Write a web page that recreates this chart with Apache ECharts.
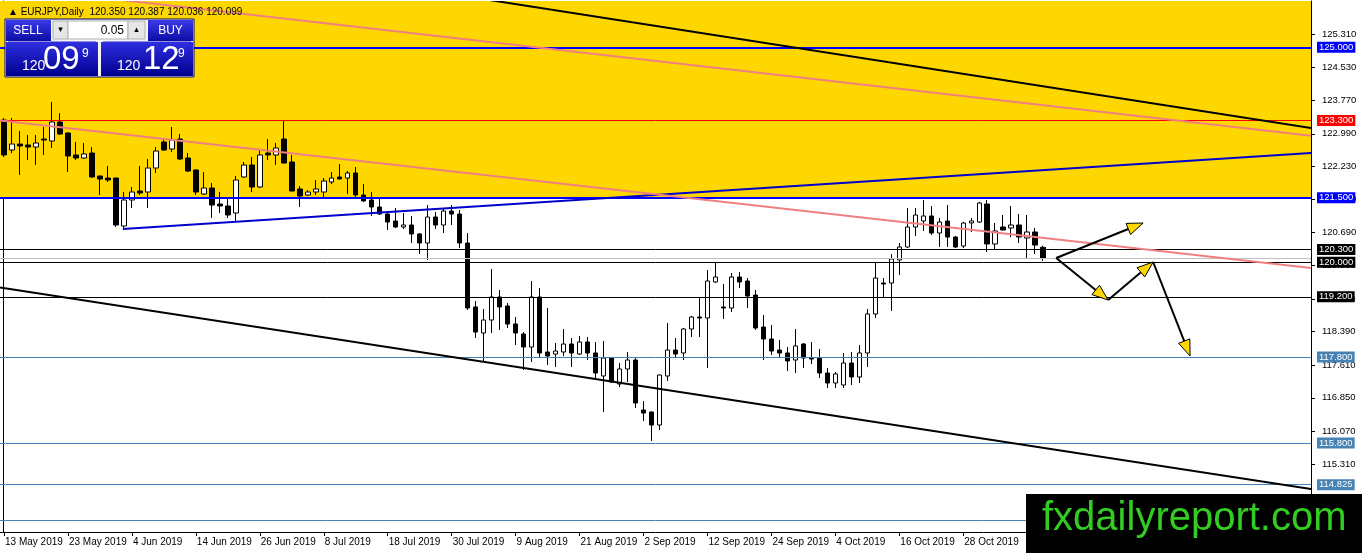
<!DOCTYPE html>
<html>
<head>
<meta charset="utf-8" />
<title>EURJPY,Daily</title>
<script src="https://cdn.jsdelivr.net/npm/echarts@6/dist/echarts.min.js"></script>
<style>
	html, body { margin: 0; padding: 0; background: #fff; }
	#main { width: 1362px; height: 553px; }
</style>
</head>
<body>
<div id="main"></div>
<script type="text/javascript">

// daily candles, 13 May 2019 .. 11 Nov 2019
var opens = [
	123.310,122.613,122.752,122.729,122.682,122.868,122.822,123.264,123.008,122.497,
	122.427,122.543,122.008,121.961,121.961,120.845,121.450,121.659,121.636,122.194,
	122.799,122.636,122.868,122.427,122.148,121.589,121.729,121.357,121.310,121.148,
	121.985,122.264,121.752,122.543,122.497,122.868,122.334,121.706,121.566,121.636,
	121.636,121.868,121.985,121.961,122.078,121.566,121.450,121.287,121.124,120.962,
	120.822,120.868,120.659,120.450,121.054,120.868,121.194,121.124,120.450,118.962,
	118.357,118.659,119.194,118.985,118.566,118.334,118.031,119.194,117.915,117.868,
	117.915,118.101,117.868,118.148,117.892,117.357,117.775,117.171,117.520,117.729,
	116.566,116.520,116.217,117.357,117.961,117.892,118.450,118.729,118.706,119.543,
	118.962,118.938,119.659,119.566,119.240,118.496,118.217,117.961,117.892,117.729,
	118.101,117.775,117.775,117.427,117.194,117.148,117.659,117.334,117.892,118.799,
	119.520,119.520,120.055,120.357,120.822,120.962,121.078,120.682,120.962,120.589,
	120.380,120.915,120.938,121.357,120.427,120.822,120.799,120.868,120.566,120.706,
	120.350
];
var highs = [
	123.357,123.357,123.055,122.961,122.961,123.148,123.729,123.473,123.020,122.799,
	122.775,122.682,122.020,122.241,121.970,121.636,121.752,122.241,122.403,122.682,
	122.868,123.148,122.985,122.543,122.160,122.101,121.845,121.636,121.520,122.010,
	122.334,122.450,122.613,122.868,122.775,123.287,122.497,121.775,121.682,121.915,
	121.961,122.101,122.287,122.124,122.217,121.822,121.636,121.473,121.194,121.264,
	121.148,121.078,120.682,121.334,121.171,121.264,121.334,121.217,120.682,119.101,
	118.915,119.845,119.357,119.055,118.729,118.380,119.566,119.403,118.938,118.124,
	118.450,118.241,118.287,118.264,118.148,118.171,117.790,117.659,117.915,117.799,
	116.775,116.530,117.390,118.589,118.241,118.473,118.752,119.171,119.822,120.008,
	119.496,119.752,119.775,119.636,119.357,118.776,118.543,118.194,118.031,118.450,
	118.124,118.148,117.985,117.543,117.450,117.892,117.915,118.078,118.915,120.008,
	119.636,120.194,120.450,121.264,121.264,121.450,121.310,121.031,121.334,120.613,
	120.938,121.031,121.404,121.450,120.915,121.101,121.310,121.124,121.101,120.799,
	120.387
];
var lows = [
	122.450,122.543,122.031,122.380,122.264,122.497,122.659,122.961,122.101,122.380,
	122.410,121.961,121.566,121.868,120.822,120.799,121.264,121.566,121.264,122.078,
	122.589,122.566,122.380,122.101,121.566,121.566,121.031,121.148,121.031,120.938,
	121.961,121.636,121.729,122.380,122.264,122.300,121.650,121.287,121.543,121.566,
	121.496,121.822,121.930,121.589,121.520,121.403,121.078,121.101,120.752,120.799,
	120.775,120.450,120.194,120.055,120.775,120.682,120.868,120.334,118.892,118.241,
	117.706,118.357,118.427,118.473,118.078,117.496,117.683,117.775,117.612,117.566,
	117.822,117.566,117.845,117.729,117.310,116.519,117.194,117.101,117.217,116.612,
	116.310,115.845,116.101,117.241,117.775,117.729,118.264,118.264,117.543,119.520,
	118.682,118.845,119.403,118.938,118.427,117.729,117.845,117.775,117.473,117.427,
	117.543,117.636,117.310,117.078,117.078,117.078,117.148,117.194,117.566,118.706,
	119.171,118.869,119.706,120.334,120.613,120.729,120.636,120.357,120.357,120.334,
	120.334,120.706,120.915,120.241,120.287,120.740,120.589,120.450,120.101,120.194,
	120.036
];
var closes = [
	122.497,122.752,122.706,122.682,122.775,122.845,123.264,122.985,122.473,122.427,
	122.520,121.985,121.938,121.915,120.868,121.450,121.636,121.613,122.194,122.589,
	122.613,122.845,122.403,122.124,121.636,121.729,121.333,121.310,121.101,121.915,
	122.264,121.752,122.497,122.497,122.659,122.310,121.659,121.543,121.636,121.706,
	121.892,121.961,121.938,122.078,121.566,121.427,121.287,121.124,120.938,120.822,
	120.868,120.659,120.450,121.054,120.868,121.194,121.124,120.450,118.938,118.380,
	118.659,119.194,118.962,118.566,118.357,118.031,119.194,117.892,117.822,117.938,
	118.101,117.892,118.148,117.892,117.427,117.775,117.217,117.520,117.729,116.729,
	116.496,116.217,117.380,117.961,117.868,118.450,118.729,118.706,119.566,119.659,
	118.938,119.659,119.543,119.217,118.473,118.217,117.938,117.892,117.706,118.055,
	117.775,117.752,117.427,117.194,117.404,117.659,117.334,117.892,118.799,119.636,
	119.496,120.078,120.357,120.822,121.101,121.078,120.682,120.938,120.589,120.357,
	120.915,120.962,121.380,120.427,120.729,120.752,120.868,120.589,120.706,120.403,
	120.099
];

var firstDay = Date.UTC(2019, 4, 13);
var totalBars = 164;          // candles + empty space to the right edge
var monthNames = ['Jan','Feb','Mar','Apr','May','Jun','Jul','Aug','Sep','Oct','Nov','Dec'];

// price scale labels
var yTicks = [125.310,124.530,123.770,122.990,122.230,121.470,120.690,119.930,
              119.150,118.390,117.610,116.850,116.070,115.310,114.530,113.770];
var yMin = 113.729, yMax = 126.078;

// horizontal levels
var levelPrices = [125.000,123.300,121.500,120.300,120.000,119.200,117.800,115.800,114.825,114.000];
var levelColors = ['#0000ff','#ff0000','#0000ff','#000000','#000000','#000000','#4682b4','#4682b4','#4682b4','#4682b4'];
var levelWidths = [2,1,2,1,1,1,1,1,1,1];
var zoneBottom = 121.500;

// trend lines [barFrom, priceFrom, barTo, priceTo]
var trendLines = [
	[57.125, 126.205, 163.5, 123.124],
	[-0.5, 126.424, 163.5, 122.945],
	[14.875, 120.775, 163.5, 122.543],
	[-0.5, 123.299, 163.5, 119.868],
	[-0.5, 119.417, 163.5, 114.729]
];
var trendColors = ['#000000','#f08080','#0000cc','#f08080','#000000'];
var trendWidths = [2,2,2,2,2];

// scenario arrows [barFrom, priceFrom, barTo, priceTo]
var arrows = [
	[131.625, 120.101, 142.5, 120.915],
	[131.625, 120.101, 138.125, 119.124],
	[138.125, 119.124, 143.75, 120.008],
	[143.75, 120.008, 148.375, 117.822]
];

var dates = [];
var t = firstDay;
while (dates.length < totalBars) {
	var d = new Date(t);
	var wd = d.getUTCDay();
	if (wd !== 0 && wd !== 6) {
		dates.push(d.getUTCDate() + ' ' + monthNames[d.getUTCMonth()] + ' ' + d.getUTCFullYear());
	}
	t += 86400000;
}

var candles = [];
for (var i = 0; i < opens.length; i++) {
	candles.push([opens[i], closes[i], lows[i], highs[i]]);
}
var last = opens.length - 1;
var bid = closes[last];

var lvlData = [];
for (var k = 0; k < levelPrices.length; k++) {
	lvlData.push({
		yAxis: levelPrices[k],
		lineStyle: { color: levelColors[k], width: levelWidths[k], type: 'solid' },
		label: {
			show: true, position: 'end', distance: 6,
			formatter: levelPrices[k].toFixed(3),
			backgroundColor: levelColors[k], color: '#fff',
			padding: [1, 2, 0, 2], fontSize: 9.5, fontFamily: 'Liberation Sans'
		}
	});
}
lvlData.push({ yAxis: bid, lineStyle: { color: '#c0c0c0', width: 1, type: 'solid' }, label: { show: false } });

var fontF = 'Liberation Sans';
var btnGrad = { type: 'linear', x: 0, y: 0, x2: 0, y2: 1,
	colorStops: [{ offset: 0, color: '#3a3aea' }, { offset: 1, color: '#0c0ca4' }] };
var bigGrad = { type: 'linear', x: 0, y: 0, x2: 0, y2: 1,
	colorStops: [{ offset: 0, color: '#2e2ee0' }, { offset: 1, color: '#00008e' }] };

var myChart = echarts.init(document.getElementById('main'));

myChart.setOption({
	animation: false,
	backgroundColor: '#ffffff',
	title: {
		text: '\u25B2 EURJPY,Daily  ' + opens[last].toFixed(3) + ' ' + highs[last].toFixed(3) + ' ' +
			lows[last].toFixed(3) + ' ' + closes[last].toFixed(3),
		left: 3, top: 2,
		textStyle: { fontSize: 10, fontWeight: 'normal', color: '#000', fontFamily: fontF }
	},
	grid: { left: -1, right: 51, top: 1, bottom: 21, show: false },
	xAxis: [{
		type: 'category',
		data: dates,
		boundaryGap: true,
		axisLine: { show: true, lineStyle: { color: '#000', width: 1 } },
		axisTick: { show: true, interval: 7, alignWithLabel: true, length: 4, lineStyle: { color: '#000' } },
		axisLabel: { interval: 7, align: 'left', margin: 5, padding: [0, 0, 0, 1],
			fontSize: 10, color: '#000', fontFamily: fontF },
		splitLine: { show: false }
	}, {
		type: 'value',
		position: 'top',
		min: -0.5, max: 163.5,
		axisLine: { show: true, onZero: false, lineStyle: { color: '#000', width: 1 } },
		axisTick: { show: false }, axisLabel: { show: false }, splitLine: { show: false }
	}],
	yAxis: [{
		type: 'value',
		position: 'right',
		min: yMin, max: yMax,
		axisLine: { show: true, onZero: false, lineStyle: { color: '#000', width: 1 } },
		axisTick: { show: true, length: 4, customValues: yTicks, lineStyle: { color: '#000' } },
		axisLabel: { customValues: yTicks, margin: 11, fontSize: 9.5, color: '#000', fontFamily: fontF,
			formatter: function (v) { return v.toFixed(3); } },
		splitLine: { show: false }
	}, {
		type: 'value',
		position: 'left',
		offset: -3,
		min: yMin, max: yMax,
		axisLine: { show: true, onZero: false, lineStyle: { color: '#000', width: 1 } },
		axisTick: { show: false }, axisLabel: { show: false }, splitLine: { show: false }
	}],
	series: [{
		type: 'candlestick',
		xAxisIndex: 0, yAxisIndex: 0,
		data: candles,
		barWidth: 5,
		z: 3,
		itemStyle: {
			color: '#ffffff', color0: '#000000',
			borderColor: '#000000', borderColor0: '#000000', borderWidth: 1
		},
		markArea: {
			silent: true,
			itemStyle: { color: '#ffd700' },
			data: [[{ yAxis: zoneBottom }, { yAxis: yMax }]]
		},
		markLine: {
			silent: true,
			symbol: ['none', 'none'],
			data: lvlData
		}
	}, {
		type: 'custom',
		xAxisIndex: 1, yAxisIndex: 0,
		clip: true,
		z: 6,
		silent: true,
		encode: { x: [0, 2], y: [1, 3] },
		data: trendLines,
		renderItem: function (params, api) {
			var a = api.coord([api.value(0), api.value(1)]);
			var b = api.coord([api.value(2), api.value(3)]);
			return {
				type: 'line',
				shape: { x1: a[0], y1: a[1], x2: b[0], y2: b[1] },
				style: { stroke: trendColors[params.dataIndex], lineWidth: trendWidths[params.dataIndex] }
			};
		}
	}, {
		type: 'custom',
		xAxisIndex: 1, yAxisIndex: 0,
		z: 7,
		silent: true,
		encode: { x: [0, 2], y: [1, 3] },
		data: arrows,
		renderItem: function (params, api) {
			var a = api.coord([api.value(0), api.value(1)]);
			var b = api.coord([api.value(2), api.value(3)]);
			var dx = b[0] - a[0], dy = b[1] - a[1];
			var len = Math.sqrt(dx * dx + dy * dy);
			var ux = dx / len, uy = dy / len;
			var hl = 16, hw = 6;
			var bx = b[0] - ux * hl, by = b[1] - uy * hl;
			return {
				type: 'group',
				children: [{
					type: 'line',
					shape: { x1: a[0], y1: a[1], x2: bx, y2: by },
					style: { stroke: '#000', lineWidth: 2 }
				}, {
					type: 'polygon',
					shape: { points: [[b[0], b[1]], [bx - uy * hw, by + ux * hw], [bx + uy * hw, by - ux * hw]] },
					style: { fill: '#ffd700', stroke: '#000', lineWidth: 1 }
				}]
			};
		}
	}],
	graphic: [
		// one-click trading panel
		{ type: 'rect', shape: { x: 5, y: 19, width: 189, height: 58 }, style: { fill: '#f4f4f4', stroke: '#000070', lineWidth: 1 }, z: 100 },
		{ type: 'rect', shape: { x: 6, y: 20, width: 45, height: 21 }, style: { fill: btnGrad }, z: 101 },
		{ type: 'text', style: { text: 'SELL', x: 28, y: 30.5, align: 'center', verticalAlign: 'middle', fill: '#fff', fontSize: 12, fontFamily: fontF }, z: 102 },
		{ type: 'rect', shape: { x: 53, y: 21, width: 15, height: 18 }, style: { fill: '#e6e6e6', stroke: '#b0b0b0' }, z: 101 },
		{ type: 'text', style: { text: '\u25BE', x: 60.5, y: 30, align: 'center', verticalAlign: 'middle', fill: '#000', fontSize: 9, fontFamily: 'DejaVu Sans' }, z: 102 },
		{ type: 'rect', shape: { x: 68, y: 21, width: 60, height: 18 }, style: { fill: '#ffffff', stroke: '#b0b0b0' }, z: 101 },
		{ type: 'text', style: { text: '0.05', x: 124, y: 30.5, align: 'right', verticalAlign: 'middle', fill: '#000', fontSize: 12, fontFamily: fontF }, z: 102 },
		{ type: 'rect', shape: { x: 128, y: 21, width: 17, height: 18 }, style: { fill: '#e6e6e6', stroke: '#b0b0b0' }, z: 101 },
		{ type: 'text', style: { text: '\u25B4', x: 136.5, y: 30, align: 'center', verticalAlign: 'middle', fill: '#000', fontSize: 9, fontFamily: 'DejaVu Sans' }, z: 102 },
		{ type: 'rect', shape: { x: 148, y: 20, width: 45, height: 21 }, style: { fill: btnGrad }, z: 101 },
		{ type: 'text', style: { text: 'BUY', x: 170.5, y: 30.5, align: 'center', verticalAlign: 'middle', fill: '#fff', fontSize: 12, fontFamily: fontF }, z: 102 },
		{ type: 'rect', shape: { x: 6, y: 42, width: 92, height: 34 }, style: { fill: bigGrad }, z: 101 },
		{ type: 'rect', shape: { x: 101, y: 42, width: 92, height: 34 }, style: { fill: bigGrad }, z: 101 },
		{ type: 'line', shape: { x1: 8, y1: 41.5, x2: 96, y2: 41.5 }, style: { stroke: '#8f8fe0', lineWidth: 1 }, z: 102 },
		{ type: 'line', shape: { x1: 103, y1: 41.5, x2: 191, y2: 41.5 }, style: { stroke: '#8f8fe0', lineWidth: 1 }, z: 102 },
		{ type: 'text', style: { text: '120', x: 22, y: 66, verticalAlign: 'middle', fill: '#fff', fontSize: 14, fontFamily: fontF }, z: 102 },
		{ type: 'text', style: { text: '09', x: 43, y: 60, verticalAlign: 'middle', fill: '#fff', fontSize: 33, fontFamily: fontF }, z: 102 },
		{ type: 'text', style: { text: '9', x: 82, y: 54, verticalAlign: 'middle', fill: '#fff', fontSize: 12, fontFamily: fontF }, z: 102 },
		{ type: 'text', style: { text: '120', x: 117, y: 66, verticalAlign: 'middle', fill: '#fff', fontSize: 14, fontFamily: fontF }, z: 102 },
		{ type: 'text', style: { text: '12', x: 143, y: 60, verticalAlign: 'middle', fill: '#fff', fontSize: 33, fontFamily: fontF }, z: 102 },
		{ type: 'text', style: { text: '9', x: 178, y: 54, verticalAlign: 'middle', fill: '#fff', fontSize: 12, fontFamily: fontF }, z: 102 },
		// watermark
		{ type: 'rect', shape: { x: 1026, y: 494, width: 336, height: 59 }, style: { fill: '#000' }, z: 100 },
		{ type: 'text', style: { text: 'fxdailyreport.com', x: 1042, y: 519, verticalAlign: 'middle', fill: '#33cc22', fontSize: 40, fontFamily: fontF }, z: 101 }
	]
});

</script>
</body>
</html>
